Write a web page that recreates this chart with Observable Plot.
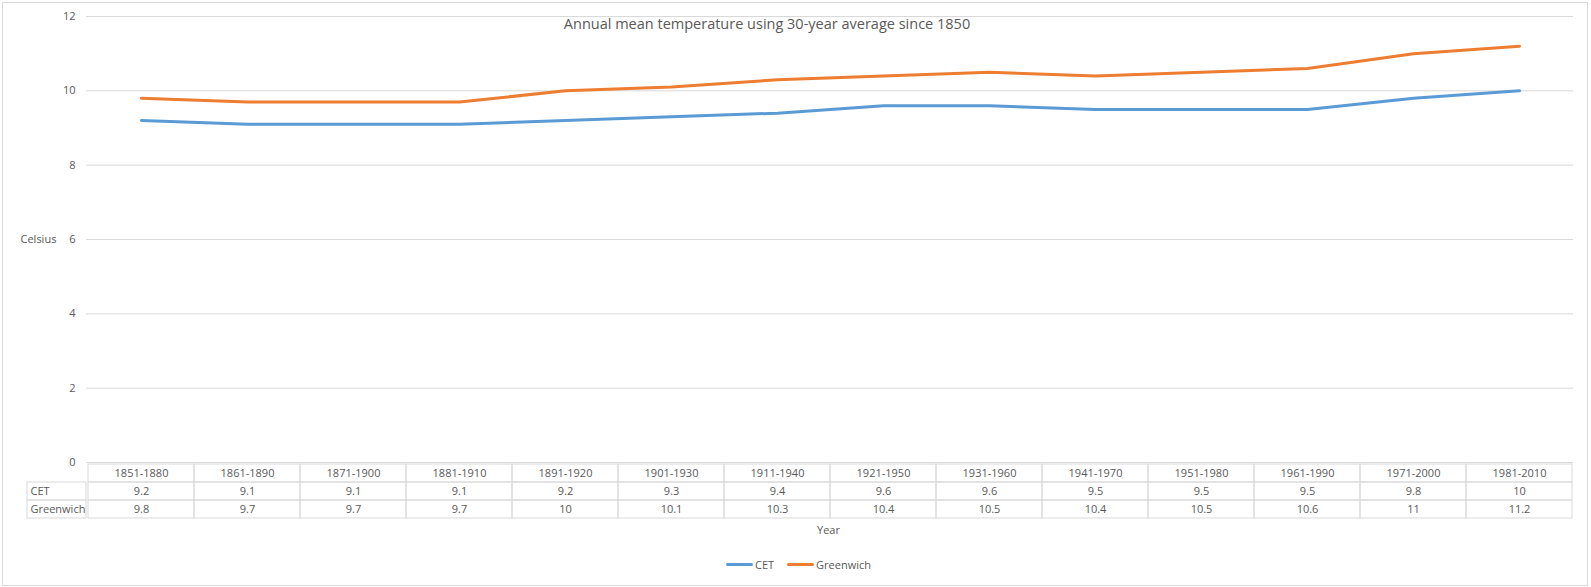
<!DOCTYPE html>
<html>
<head>
<meta charset="utf-8">
<script src="https://cdn.jsdelivr.net/npm/d3@7"></script>
<script src="https://cdn.jsdelivr.net/npm/@observablehq/plot@0.6"></script>
<style>
  html, body { margin: 0; padding: 0; background: #fff; }
  #wrap { position: relative; width: 1591px; height: 587px; background: #fff; overflow: hidden; font-family: "Open Sans", sans-serif; color: #595959; }
  #border { position: absolute; left: 2px; top: 2px; width: 1584px; height: 582px; border: 1px solid #d9d9d9; }
  .abs { position: absolute; }
  #legend { position: absolute; left: 726px; top: 557px; display: flex; align-items: center; font-size: 11px; color: #595959; }
  #legend .sw { display: inline-block; width: 27px; height: 3px; border-radius: 2px; margin-right: 2px; }
</style>
</head>
<body>
<div id="wrap">
  <div id="border"></div>
  <div id="chart" class="abs" style="left:0;top:0"></div>
  <div id="table" class="abs" style="left:0;top:462px"></div>
  <div id="rowhead" class="abs" style="left:26px;top:462px"></div>
  <div id="legend"></div>
</div>
<script>
// ---- data ----
const periods = ["1851-1880","1861-1890","1871-1900","1881-1910","1891-1920","1901-1930","1911-1940","1921-1950","1931-1960","1941-1970","1951-1980","1961-1990","1971-2000","1981-2010"];
const cet = [9.2, 9.1, 9.1, 9.1, 9.2, 9.3, 9.4, 9.6, 9.6, 9.5, 9.5, 9.5, 9.8, 10];
const greenwich = [9.8, 9.7, 9.7, 9.7, 10, 10.1, 10.3, 10.4, 10.5, 10.4, 10.5, 10.6, 11, 11.2];
const seriesNames = ["CET", "Greenwich"];
const seriesColors = ["#5B9BD5", "#ED7D31"];
const yTicks = [0, 2, 4, 6, 8, 10, 12];
const title = "Annual mean temperature using 30-year average since 1850";
const yLabel = "Celsius";
const xLabel = "Year";

const seriesValues = [cet, greenwich];
const long = seriesNames.flatMap((s, si) => periods.map((p, i) => ({series: s, period: p, value: seriesValues[si][i]})));

const font = {fontFamily: "Open Sans, sans-serif", fontSize: "11px", color: "#595959", background: "transparent", overflow: "visible"};
const GRID = "#d9d9d9";

// ---- main chart ----
const chart = Plot.plot({
  width: 1591, height: 472,
  marginTop: 16, marginBottom: 10, marginLeft: 86, marginRight: 18,
  style: font,
  x: {type: "band", domain: periods, padding: 0, axis: null},
  y: {domain: [0, 12], axis: null},
  color: {domain: seriesNames, range: seriesColors},
  marks: [
    Plot.gridY(yTicks, {stroke: GRID, strokeOpacity: 1}),
    Plot.axisY({ticks: yTicks, tickSize: 0, tickPadding: 11, label: null, fill: "#595959"}),
    Plot.text([yLabel], {frameAnchor: "left", dx: -66, textAnchor: "start", fill: "#595959"}),
    Plot.text([title], {frameAnchor: "top", dx: -63, dy: 8, lineAnchor: "middle", fontSize: 14.5, fill: "#595959"}),
    Plot.lineY(long, {x: "period", y: "value", z: "series", stroke: "series", strokeWidth: 3, strokeLinecap: "round", strokeLinejoin: "round"})
  ]
});
document.getElementById("chart").append(chart);

// ---- data table ----
const rows = ["head", ...seriesNames];
const cells = [
  ...periods.map(p => ({period: p, row: "head", label: p})),
  ...long.map(d => ({period: d.period, row: d.series, label: String(d.value)}))
];
const table = Plot.plot({
  width: 1591, height: 80,
  marginTop: 1, marginBottom: 23, marginLeft: 86, marginRight: 18,
  style: font,
  x: {type: "band", domain: periods, padding: 0, axis: null},
  y: {type: "band", domain: rows, padding: 0, axis: null},
  marks: [
    Plot.cell(cells, {x: "period", y: "row", fill: "none", stroke: GRID}),
    Plot.text(cells, {x: "period", y: "row", text: "label", fill: "#595959"}),
    Plot.text([xLabel], {frameAnchor: "bottom", dx: -1.5, dy: 11, lineAnchor: "middle", fill: "#595959"})
  ]
});
document.getElementById("table").append(table);

const rowhead = Plot.plot({
  width: 61, height: 80,
  marginTop: 1, marginBottom: 23, marginLeft: 1, marginRight: 1,
  style: font,
  y: {type: "band", domain: rows, padding: 0, axis: null},
  marks: [
    Plot.cell(seriesNames, {y: d => d, fill: "none", stroke: GRID}),
    Plot.text(seriesNames, {y: d => d, text: d => d, frameAnchor: "left", dx: 3, textAnchor: "start", fill: "#595959"})
  ]
});
document.getElementById("rowhead").append(rowhead);

// ---- legend ----
const legend = document.getElementById("legend");
seriesNames.forEach((s, i) => {
  const item = document.createElement("span");
  item.style.display = "inline-flex";
  item.style.alignItems = "center";
  item.style.marginRight = i === 0 ? "13px" : "0";
  const sw = document.createElement("span");
  sw.className = "sw";
  sw.style.background = seriesColors[i];
  const tx = document.createElement("span");
  tx.textContent = s;
  item.append(sw, tx);
  legend.append(item);
});
</script>
</body>
</html>
